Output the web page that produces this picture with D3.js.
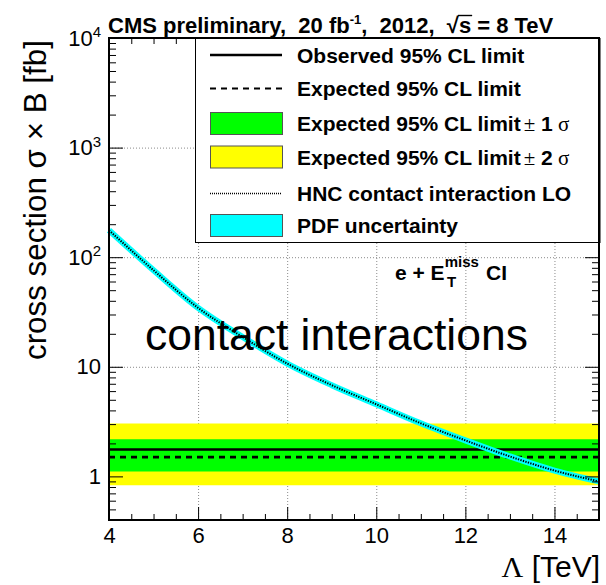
<!DOCTYPE html>
<html>
<head>
<meta charset="utf-8">
<script src="https://cdn.jsdelivr.net/npm/d3@7"></script>
<style>
  html, body { margin: 0; padding: 0; background: #fff; }
  svg { display: block; }
  text { font-family: "Liberation Sans", Arial, sans-serif; white-space: pre; }
</style>
</head>
<body>
<svg id="chart" width="606" height="585"></svg>
<script>
// Contact-interaction scale Lambda (TeV) where the HNC LO cross section is sampled
const hncLambda = [4, 5, 6, 7, 8, 9, 10, 11, 12, 13, 14, 15];
// HNC contact interaction LO cross section x B (fb)
const hncXsec = [176, 76, 34.5, 18.7, 10.7, 6.8, 4.55, 3.05, 2.13, 1.52, 1.13, 0.9];

// Limits are flat across the Lambda range
const limitLambda = [4, 15];
const observedLimit = [1.76, 1.76];
const expectedLimit = [1.50, 1.50];
const oneSigmaLow = [1.11, 1.11];
const oneSigmaHigh = [2.18, 2.18];
const twoSigmaLow = [0.83, 0.83];
const twoSigmaHigh = [3.03, 3.03];

// Axis ticks
const xMajorTicks = [4, 6, 8, 10, 12, 14];
const xMinorTicks = [4.5, 5, 5.5, 6.5, 7, 7.5, 8.5, 9, 9.5, 10.5, 11, 11.5, 12.5, 13, 13.5, 14.5];
const yMajorTicks = [1, 10, 100, 1000, 10000];
const xDomain = [4, 15];
const yDomain = [0.4, 10000];

const legendLabels = [
  "Observed 95% CL limit",
  "Expected 95% CL limit",
  "Expected 95% CL limit",
  "Expected 95% CL limit",
  "HNC contact interaction LO",
  "PDF uncertainty"
];

const W = 606, H = 585;
const plot = { left: 109, right: 599, top: 38, bottom: 520 };

const svg = d3.select("#chart");
const x = d3.scaleLinear().domain(xDomain).range([plot.left, plot.right]);
const y = d3.scaleLog().domain(yDomain).range([plot.bottom, plot.top]);

const GREEN = "#00ff00", YELLOW = "#ffff00", CYAN = "#00ffff";

// Scale a text's font so that it spans the given width
function fitWidth(sel, size, width) {
  sel.attr("font-size", size);
  const len = sel.node().getComputedTextLength();
  sel.attr("font-size", size * width / len);
}

// Dotted grid
const grid = svg.append("g").attr("stroke", "#8a8a8a").attr("stroke-width", 1)
  .attr("stroke-dasharray", "1,2");
grid.selectAll("line.v").data(xMajorTicks.filter(d => d > xDomain[0]))
  .join("line").attr("class", "v")
  .attr("x1", d => x(d) + 0.5).attr("x2", d => x(d) + 0.5)
  .attr("y1", plot.bottom).attr("y2", plot.top);
grid.selectAll("line.h").data(yMajorTicks.filter(d => d < yDomain[1]))
  .join("line").attr("class", "h")
  .attr("y1", d => y(d) + 0.5).attr("y2", d => y(d) + 0.5)
  .attr("x1", plot.left).attr("x2", plot.right);

// Expected limit bands
const idx = d3.range(limitLambda.length);
const bandArea = (lo, hi) => d3.area()
  .x(i => x(limitLambda[i])).y0(i => y(lo[i])).y1(i => y(hi[i]));
svg.append("path").datum(idx).attr("fill", YELLOW).attr("d", bandArea(twoSigmaLow, twoSigmaHigh));
svg.append("path").datum(idx).attr("fill", GREEN).attr("d", bandArea(oneSigmaLow, oneSigmaHigh));

const limitLine = vals => d3.line().x(i => x(limitLambda[i])).y(i => y(vals[i]));
svg.append("path").datum(idx).attr("fill", "none").attr("stroke", "#000")
  .attr("stroke-width", 2.6).attr("d", limitLine(observedLimit));
svg.append("path").datum(idx).attr("fill", "none").attr("stroke", "#000")
  .attr("stroke-width", 2.6).attr("stroke-dasharray", "6,5").attr("d", limitLine(expectedLimit));

// Theory curve with PDF uncertainty band
const hncIdx = d3.range(hncLambda.length);
const hncLine = d3.line().curve(d3.curveMonotoneX)
  .x(i => x(hncLambda[i])).y(i => y(hncXsec[i]));
svg.append("path").datum(hncIdx).attr("fill", "none").attr("stroke", CYAN)
  .attr("stroke-width", 6).attr("d", hncLine);
svg.append("path").datum(hncIdx).attr("fill", "none").attr("stroke", "#000")
  .attr("stroke-width", 2).attr("stroke-dasharray", "1.3,1.3").attr("d", hncLine);

// Axes (ticks point inward)
function clean(g) { g.select(".domain").remove(); g.selectAll(".tick line").attr("stroke", "#000"); }

const xb = svg.append("g").attr("transform", `translate(0,${plot.bottom})`)
  .call(d3.axisBottom(x).tickValues(xMajorTicks).tickSize(-13).tickPadding(7).tickFormat(d3.format("d")))
  .call(clean);
xb.selectAll("text").attr("fill", "#000").attr("font-size", 22)
  .attr("font-family", "'Liberation Sans', Arial, sans-serif");
svg.append("g").attr("transform", `translate(0,${plot.bottom})`)
  .call(d3.axisBottom(x).tickValues(xMinorTicks).tickSize(-6).tickFormat(""))
  .call(clean);
svg.append("g").attr("transform", `translate(0,${plot.top})`)
  .call(d3.axisTop(x).tickValues(xMajorTicks).tickSize(-13).tickFormat(""))
  .call(clean);
svg.append("g").attr("transform", `translate(0,${plot.top})`)
  .call(d3.axisTop(x).tickValues(xMinorTicks).tickSize(-6).tickFormat(""))
  .call(clean);

const yMinorTicks = y.ticks().filter(d => !yMajorTicks.includes(d));
const yl = svg.append("g").attr("transform", `translate(${plot.left},0)`)
  .call(d3.axisLeft(y).tickValues(yMajorTicks).tickSize(-14).tickPadding(8).tickFormat(() => ""))
  .call(clean);
yl.selectAll(".tick text").each(function (d) {
  const t = d3.select(this).attr("fill", "#000").attr("font-size", 22)
    .attr("font-family", "'Liberation Sans', Arial, sans-serif");
  const e = Math.round(Math.log10(d));
  if (e === 0) t.text("1");
  else if (e === 1) t.text("10");
  else {
    t.append("tspan").text("10");
    t.append("tspan").attr("font-size", 15).attr("dy", "-0.55em").text(String(e));
  }
});
svg.append("g").attr("transform", `translate(${plot.left},0)`)
  .call(d3.axisLeft(y).tickValues(yMinorTicks).tickSize(-7).tickFormat(""))
  .call(clean);
svg.append("g").attr("transform", `translate(${plot.right},0)`)
  .call(d3.axisRight(y).tickValues(yMajorTicks).tickSize(-14).tickFormat(""))
  .call(clean);
svg.append("g").attr("transform", `translate(${plot.right},0)`)
  .call(d3.axisRight(y).tickValues(yMinorTicks).tickSize(-7).tickFormat(""))
  .call(clean);

// Legend
const leg = { x0: 195, x1: 599.5, y0: plot.top, y1: 242 };
svg.append("rect").attr("x", leg.x0 + 0.5).attr("y", leg.y0 + 0.5)
  .attr("width", leg.x1 - leg.x0).attr("height", leg.y1 - leg.y0)
  .attr("fill", "#fff").attr("stroke", "#000").attr("stroke-width", 1);
const rowY = [55, 88.5, 123.5, 157, 193.5, 225.5];
const sw = { x0: 210, x1: 282, h: 22 };
const lg = svg.append("g");
lg.append("line").attr("x1", sw.x0).attr("x2", sw.x1).attr("y1", rowY[0]).attr("y2", rowY[0])
  .attr("stroke", "#000").attr("stroke-width", 2.6);
lg.append("line").attr("x1", sw.x0).attr("x2", sw.x1).attr("y1", rowY[1]).attr("y2", rowY[1])
  .attr("stroke", "#000").attr("stroke-width", 2.2).attr("stroke-dasharray", "6,5");
[[2, GREEN], [3, YELLOW], [5, CYAN]].forEach(([r, c]) => {
  lg.append("rect").attr("x", sw.x0 + 0.5).attr("y", rowY[r] - sw.h / 2)
    .attr("width", sw.x1 - sw.x0).attr("height", sw.h)
    .attr("fill", c).attr("stroke", "#555").attr("stroke-width", 1);
});
lg.append("line").attr("x1", sw.x0).attr("x2", sw.x1).attr("y1", rowY[4]).attr("y2", rowY[4])
  .attr("stroke", "#000").attr("stroke-width", 1.6).attr("stroke-dasharray", "1,1");
legendLabels.forEach((s, i) => {
  const t = lg.append("text").attr("x", 297).attr("y", rowY[i] + 7.5)
    .attr("font-size", 21).attr("font-weight", "bold").text(s);
  if (i === 2 || i === 3) {
    t.append("tspan").attr("font-family", "'Liberation Serif', serif").attr("font-weight", "normal")
      .attr("dx", 3).text("±");
    t.append("tspan").text(" " + (i - 1));
    t.append("tspan").attr("font-family", "'Liberation Serif', serif").attr("font-weight", "normal").text(" σ");
  }
});

// Frame
svg.append("rect").attr("x", plot.left).attr("y", plot.top)
  .attr("width", plot.right - plot.left).attr("height", plot.bottom - plot.top)
  .attr("fill", "none").attr("stroke", "#000").attr("stroke-width", 2);

// Title
const title = svg.append("text").attr("x", 108).attr("y", 33)
  .attr("font-size", 22).attr("font-weight", "bold");
title.append("tspan").text("CMS preliminary,  20 fb");
title.append("tspan").attr("font-size", 13).attr("dy", -9).text("-1");
title.append("tspan").attr("dy", 9).text(",  2012,  √s = 8 TeV");
// radical overbar above the "s"
{
  const str = title.text();
  const k = str.indexOf("√s");
  const r = title.node().getExtentOfChar(k);
  const s = title.node().getExtentOfChar(k + 1);
  svg.append("line").attr("x1", r.x + r.width - 1).attr("x2", s.x + s.width + 1)
    .attr("y1", r.y + 2.5).attr("y2", r.y + 2.5).attr("stroke", "#000").attr("stroke-width", 1.4);
}

// Channel label
const ch = svg.append("text").attr("x", 395).attr("y", 280).attr("font-size", 21).attr("font-weight", "bold");
ch.append("tspan").text("e + E");
ch.append("tspan").attr("font-size", 15).attr("dy", -13).text("miss");
ch.append("tspan").attr("font-size", 15).attr("x", 447).attr("dy", 20).text("T");
ch.append("tspan").attr("x", 486).attr("dy", -7).text("CI");

// Overlay label
const ov = svg.append("text").attr("x", 145).attr("y", 350)
  .attr("font-family", "Lato, 'Open Sans', sans-serif").attr("fill", "#000")
  .text("contact interactions");
fitWidth(ov, 40, 383);

// Axis titles
const yt = svg.append("text").attr("transform", "translate(46,360) rotate(-90)")
  .attr("text-anchor", "start").text("cross section σ × B [fb]");
fitWidth(yt, 30, 320);
const xt = svg.append("text").attr("x", 600).attr("y", 577).attr("text-anchor", "end").attr("font-size", 30);
xt.append("tspan").attr("font-family", "'Liberation Serif', serif").text("Λ");
xt.append("tspan").text(" [TeV]");
</script>
</body>
</html>
